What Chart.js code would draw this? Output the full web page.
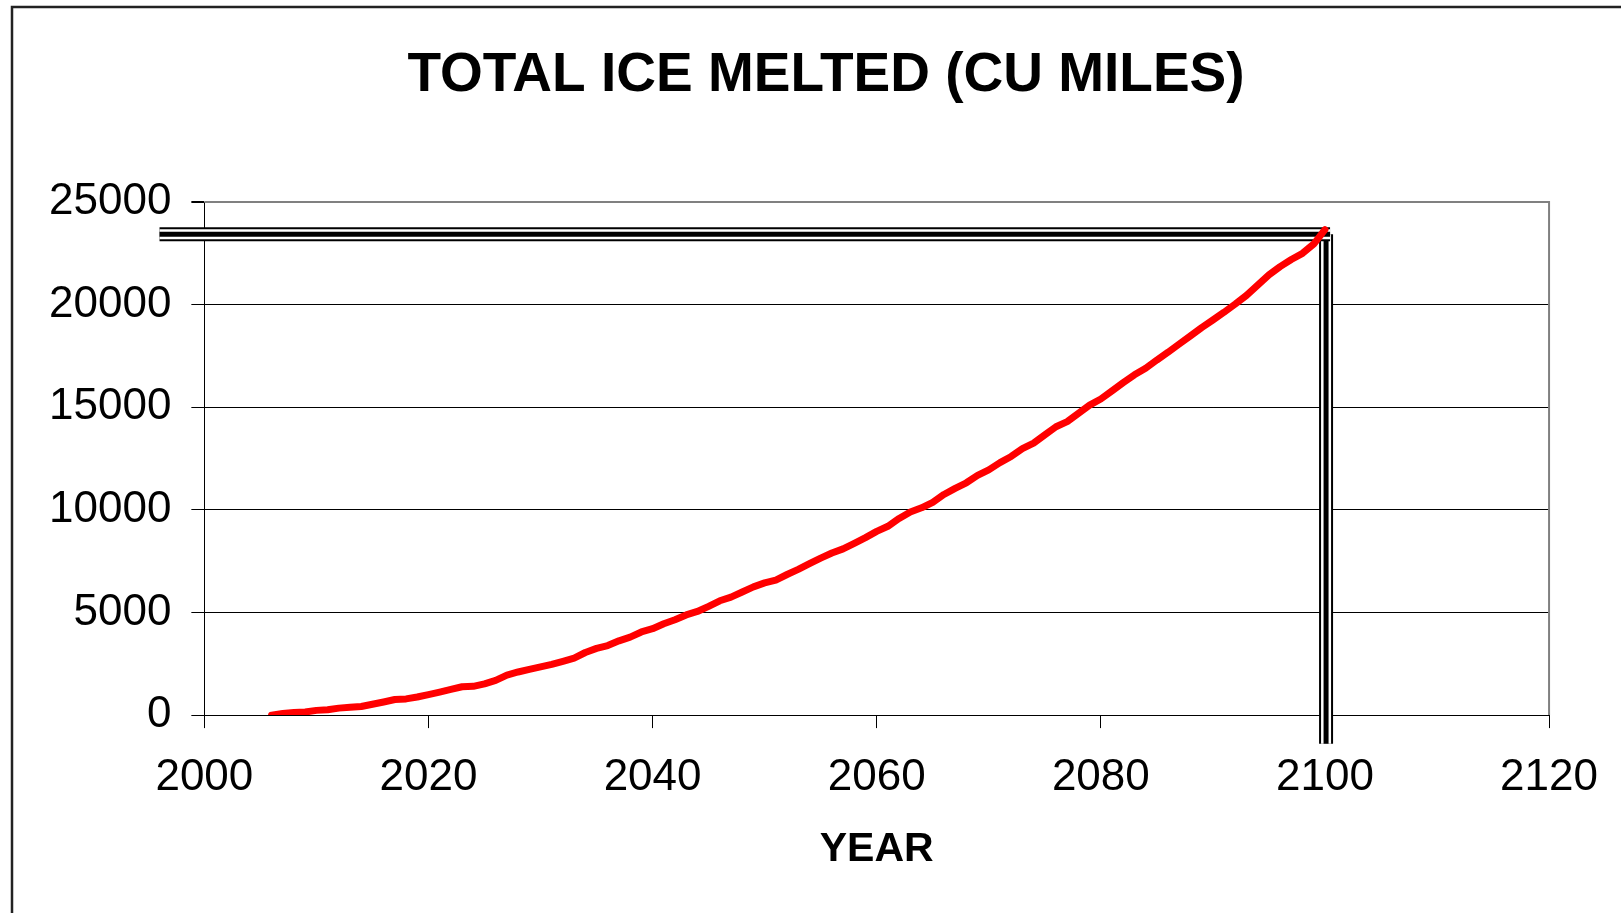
<!DOCTYPE html>
<html>
<head>
<meta charset="utf-8">
<script src="https://cdn.jsdelivr.net/npm/chart.js@4/dist/chart.umd.min.js"></script>
<style>
  html, body { margin: 0; padding: 0; background: #fff; }
  #wrap { width: 1621px; height: 913px; }
</style>
</head>
<body>
<div id="wrap"><canvas id="grafico" width="1621" height="913"></canvas></div>
<script>
// datos
const years = [2006, 2007, 2008, 2009, 2010, 2011, 2012, 2013, 2014, 2015,
  2016, 2017, 2018, 2019, 2020, 2021, 2022, 2023, 2024, 2025,
  2026, 2027, 2028, 2029, 2030, 2031, 2032, 2033, 2034, 2035,
  2036, 2037, 2038, 2039, 2040, 2041, 2042, 2043, 2044, 2045,
  2046, 2047, 2048, 2049, 2050, 2051, 2052, 2053, 2054, 2055,
  2056, 2057, 2058, 2059, 2060, 2061, 2062, 2063, 2064, 2065,
  2066, 2067, 2068, 2069, 2070, 2071, 2072, 2073, 2074, 2075,
  2076, 2077, 2078, 2079, 2080, 2081, 2082, 2083, 2084, 2085,
  2086, 2087, 2088, 2089, 2090, 2091, 2092, 2093, 2094, 2095,
  2096, 2097, 2098, 2099, 2100];
const iceMelted = [0, 80, 130, 150, 230, 260, 340, 380, 420, 530,
  640, 760, 790, 880, 1000, 1120, 1250, 1380, 1400, 1520,
  1690, 1950, 2100, 2230, 2350, 2470, 2620, 2780, 3050, 3250,
  3390, 3620, 3800, 4050, 4210, 4450, 4650, 4880, 5050, 5300,
  5570, 5750, 6000, 6250, 6440, 6580, 6850, 7100, 7380, 7650,
  7900, 8100, 8370, 8650, 8950, 9200, 9580, 9900, 10100, 10370,
  10750, 11050, 11320, 11680, 11950, 12300, 12600, 12980, 13250, 13650,
  14050, 14300, 14700, 15100, 15400, 15800, 16200, 16580, 16900, 17300,
  17680, 18080, 18480, 18880, 19250, 19630, 20030, 20450, 20950, 21450,
  21850, 22200, 22500, 22950, 23650];
const yearTicks = [2000, 2020, 2040, 2060, 2080, 2100, 2120];
const iceTicks = [0, 5000, 10000, 15000, 20000, 25000];
// lineas de referencia (doble linea negra)
const refYear = [1996, 2100.1];
const refValue = [23430, -1400];
const titulo = 'TOTAL ICE MELTED (CU MILES)';

const puntos = years.map((y, i) => ({ x: y, y: iceMelted[i] }));
const fuente = 'Liberation Sans, Arial, sans-serif';

function lineaTriple(ctx, x1, y1, x2, y2) {
  [[14, '#000'], [10, '#fff'], [5, '#000']].forEach(([w, c]) => {
    ctx.lineWidth = w;
    ctx.strokeStyle = c;
    ctx.lineCap = 'butt';
    ctx.beginPath();
    ctx.moveTo(x1, y1);
    ctx.lineTo(x2, y2);
    ctx.stroke();
  });
}

const marcos = {
  id: 'marcos',
  beforeDraw(chart) {
    const ctx = chart.ctx;
    ctx.save();
    ctx.fillStyle = '#fff';
    ctx.fillRect(0, 0, chart.width, chart.height);
    ctx.strokeStyle = '#222';
    ctx.lineWidth = 2.5;
    ctx.beginPath();
    ctx.moveTo(12, chart.height);
    ctx.lineTo(12, 7);
    ctx.lineTo(chart.width, 7);
    ctx.stroke();
    // titulo
    ctx.fillStyle = '#000';
    ctx.font = 'bold 55px ' + fuente;
    ctx.textAlign = 'center';
    ctx.textBaseline = 'middle';
    ctx.fillText(titulo, 826, 76);
    ctx.restore();
  },
  beforeDatasetsDraw(chart) {
    const ctx = chart.ctx;
    const a = chart.chartArea;
    const sx = chart.scales.x, sy = chart.scales.y;
    ctx.save();
    // borde gris superior y derecho
    ctx.strokeStyle = '#808080';
    ctx.lineWidth = 2;
    ctx.beginPath();
    ctx.moveTo(a.left, a.top);
    ctx.lineTo(a.right, a.top);
    ctx.lineTo(a.right, a.bottom);
    ctx.stroke();
    const xr = sx.getPixelForValue(refYear[1]);
    const yr = sy.getPixelForValue(refValue[0]);
    lineaTriple(ctx, xr, yr, xr, sy.getPixelForValue(refValue[1]));
    lineaTriple(ctx, sx.getPixelForValue(refYear[0]), yr, xr + 4, yr);
    ctx.restore();
  }
};

new Chart(document.getElementById('grafico'), {
  type: 'line',
  data: {
    datasets: [{
      data: puntos,
      borderColor: '#ff0000',
      borderWidth: 7,
      pointRadius: 0,
      tension: 0,
      fill: false,
      borderCapStyle: 'round',
      borderJoinStyle: 'round'
    }]
  },
  options: {
    responsive: false,
    animation: false,
    devicePixelRatio: 1,
    layout: { padding: { left: 29, right: 71, top: 202, bottom: 37 } },
    plugins: {
      legend: { display: false },
      tooltip: { enabled: false },
      title: { display: false }
    },
    scales: {
      x: {
        type: 'linear',
        min: yearTicks[0],
        max: yearTicks[yearTicks.length - 1],
        afterBuildTicks: s => { s.ticks = yearTicks.map(v => ({ value: v })); },
        ticks: {
          color: '#000',
          font: { family: fuente, size: 44 },
          padding: 23,
          maxRotation: 0,
          callback: v => String(v)
        },
        grid: { drawOnChartArea: false, tickLength: 13, color: '#000', tickColor: '#000' },
        border: { color: '#000', width: 1 },
        title: {
          display: true,
          text: 'YEAR',
          color: '#000',
          font: { family: fuente, size: 41, weight: 'bold', lineHeight: 1.1 },
          padding: { top: 0, bottom: 4 }
        }
      },
      y: {
        min: iceTicks[0],
        max: iceTicks[iceTicks.length - 1],
        afterBuildTicks: s => { s.ticks = iceTicks.map(v => ({ value: v })); },
        ticks: {
          color: '#000',
          font: { family: fuente, size: 44 },
          padding: 20,
          callback: v => String(v)
        },
        grid: {
          color: c => c.tick && c.tick.value === 25000 ? '#808080' : '#000',
          lineWidth: c => c.tick && c.tick.value === 25000 ? 2 : 1,
          tickColor: '#000',
          tickLength: 13
        },
        border: { color: '#000', width: 1 }
      }
    }
  },
  plugins: [marcos]
});
</script>
</body>
</html>
